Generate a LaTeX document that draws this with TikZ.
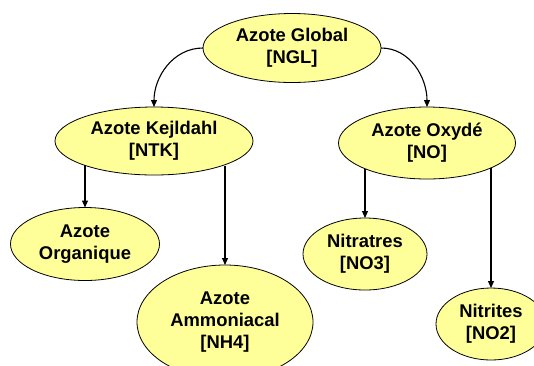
\documentclass[tikz,border=0pt]{standalone}
\usepackage{fontspec}
\setmainfont{Liberation Sans}
\usetikzlibrary{shapes.geometric,arrows.meta}
\definecolor{bubfill}{HTML}{FFFF99}
\begin{document}
\begin{tikzpicture}[x=1pt,y=-1pt,
  bub/.style={ellipse,draw=black,line width=0.8pt,fill=bubfill,inner sep=0pt,outer sep=0pt,align=center,
    font=\fontsize{18.4}{22}\selectfont\bfseries},
  arr/.style={-{Triangle[length=7pt,width=6pt]},line width=1.1pt}]
\useasboundingbox (0,0) rectangle (534,365);
\clip (0,0) rectangle (534,365);
\fill[white] (0,0) rectangle (534,365);
\node[bub,minimum width=178pt,minimum height=69pt] (ngl) at (292,48) {Azote Global\\{[}NGL{]}};
\node[bub,minimum width=198pt,minimum height=68pt] (ntk) at (154,141) {Azote Kejldahl\\{[}NTK{]}};
\node[bub,minimum width=177pt,minimum height=72pt] (no) at (427,143) {Azote Oxydé\\{[}NO{]}};
\node[bub,minimum width=149pt,minimum height=73pt] (org) at (85,244) {Azote\\Organique};
\node[bub,minimum width=176pt,minimum height=114pt] (amm) at (225,322) {Azote\\Ammoniacal\\{[}NH4{]}};
\node[bub,minimum width=124pt,minimum height=72pt] (no3) at (365,254) {Nitratres\\{[}NO3{]}};
\node[bub,minimum width=110pt,minimum height=72pt] (no2) at (491,324) {Nitrites\\{[}NO2{]}};
\draw[arr] (ngl.west) to[out=180,in=90] (ntk.north);
\draw[arr] (ngl.east) to[out=0,in=90] (no.north);
\draw[arr] (org.north |- ntk.199.5) -- (org.north);
\draw[arr] (amm.north |- ntk.340.2) -- (amm.north);
\draw[arr] (no3.north |- no.203) -- (no3.north);
\draw[arr] (no2.north |- no.338) -- (no2.north);
\end{tikzpicture}
\end{document}
